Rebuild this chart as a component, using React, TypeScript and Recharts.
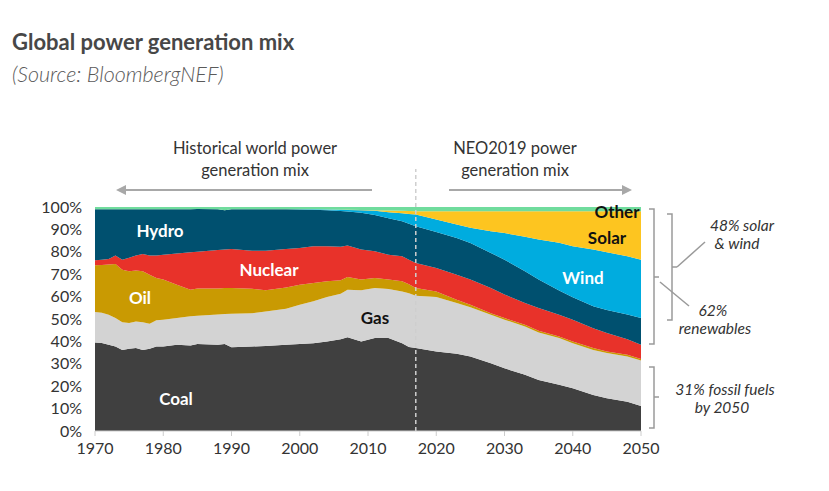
import { AreaChart, Area, XAxis, YAxis, ReferenceLine } from 'recharts';

// years (historical 1970-2017, NEO2019 outlook to 2050)
const years = [
  1970, 1971, 1972, 1973, 1974, 1975, 1976, 1977, 1978, 1979, 1980, 1982, 1984, 1985, 1988,
  1989, 1990, 1993, 1995, 1998, 2000, 2002, 2004, 2006, 2007, 2009, 2011, 2013, 2015, 2016,
  2017, 2020, 2023, 2025, 2028, 2030, 2033, 2035, 2038, 2040, 2043, 2045, 2048, 2050,
];

// share of generation, %
const coal = [
  39.5, 39.3, 38.5, 37.7, 36.2, 36.7, 37.0, 36.2, 36.7, 37.7, 37.7, 38.5, 38.2, 38.8, 38.5,
  38.8, 37.4, 37.7, 38.0, 38.5, 38.8, 39.2, 40.0, 41.0, 41.9, 40.0, 41.5, 41.5, 39.2, 37.5,
  37.0, 35.5, 34.5, 33.3, 30.3, 28.0, 25.1, 22.8, 20.6, 19.1, 16.1, 14.6, 13.1, 11.2,
];
const gas = [
  13.6, 13.5, 13.4, 12.7, 12.3, 11.5, 11.9, 12.3, 11.2, 11.7, 12.0, 11.9, 13.0, 12.6, 13.5,
  13.4, 14.9, 14.9, 15.4, 16.1, 17.6, 18.7, 19.8, 20.3, 21.2, 22.8, 22.3, 21.9, 23.1, 24.0,
  23.4, 24.3, 22.6, 22.0, 21.6, 21.7, 21.6, 21.2, 20.9, 20.1, 20.1, 20.2, 20.2, 20.3,
];
const oil = [
  20.9, 21.3, 22.4, 24.2, 23.5, 23.1, 22.8, 22.8, 21.9, 18.9, 17.9, 14.9, 11.9, 12.2, 11.6,
  11.6, 11.5, 10.9, 9.4, 9.5, 8.9, 8.2, 7.0, 6.0, 5.7, 4.8, 4.5, 4.2, 4.5, 4.0,
  3.4, 2.5, 1.5, 1.1, 0.7, 0.7, 0.7, 0.7, 0.7, 0.8, 0.8, 0.7, 0.7, 0.6,
];
const nuclear = [
  2.2, 2.4, 2.5, 3.7, 4.5, 6.0, 6.6, 7.7, 8.5, 10.0, 11.1, 13.9, 16.7, 16.4, 17.2,
  17.2, 17.5, 17.0, 17.7, 17.2, 16.4, 16.4, 15.7, 14.9, 14.0, 13.4, 11.9, 11.1, 11.2, 11.0,
  11.2, 10.5, 11.1, 11.2, 11.2, 10.5, 9.7, 10.2, 9.7, 9.7, 8.9, 8.2, 7.0, 6.4,
];
const hydro = [
  22.8, 22.5, 22.2, 20.7, 22.5, 21.7, 20.7, 20.0, 20.7, 20.7, 20.3, 19.8, 19.2, 19.1, 18.2,
  17.6, 17.7, 18.5, 18.5, 17.7, 17.2, 16.3, 16.0, 16.0, 15.2, 16.4, 16.2, 16.3, 15.6, 16.0,
  16.4, 16.0, 16.5, 16.3, 15.7, 15.6, 14.2, 12.7, 10.8, 10.0, 9.8, 10.3, 11.0, 11.9,
];
const wind = [
  0, 0, 0, 0, 0, 0, 0, 0, 0, 0, 0, 0, 0, 0, 0,
  0, 0, 0, 0, 0, 0.1, 0.2, 0.4, 0.6, 0.7, 1.2, 1.9, 2.7, 3.6, 4.4,
  5.2, 5.6, 6.0, 6.8, 9.7, 11.9, 15.4, 17.9, 21.3, 22.8, 25.3, 25.8, 26.0, 26.1,
];
const solar = [
  0, 0, 0, 0, 0, 0, 0, 0, 0, 0, 0, 0, 0, 0, 0,
  0, 0, 0, 0, 0, 0, 0, 0, 0, 0.1, 0.1, 0.3, 0.7, 1.1, 1.3,
  1.5, 3.7, 5.9, 7.4, 8.9, 9.7, 11.4, 12.6, 14.1, 15.6, 17.1, 18.3, 20.1, 21.6,
];
const other = [
  1.0, 1.0, 1.0, 1.0, 1.0, 1.0, 1.0, 1.0, 1.0, 1.0, 1.0, 1.0, 1.0, 0.9, 1.0,
  1.4, 1.0, 1.0, 1.0, 1.0, 1.0, 1.0, 1.1, 1.2, 1.2, 1.3, 1.4, 1.6, 1.7, 1.8,
  1.9, 1.9, 1.9, 1.9, 1.9, 1.9, 1.9, 1.9, 1.9, 1.9, 1.9, 1.9, 1.9, 1.9,
];

const xTicks = [1970, 1980, 1990, 2000, 2010, 2020, 2030, 2040, 2050];
const yTicks = [0, 10, 20, 30, 40, 50, 60, 70, 80, 90, 100];
const outlookStart = 2017;

const SERIES = [
  { key: 'coal', name: 'Coal', color: '#404040' },
  { key: 'gas', name: 'Gas', color: '#d3d3d3' },
  { key: 'oil', name: 'Oil', color: '#c99a02' },
  { key: 'nuclear', name: 'Nuclear', color: '#e8322a' },
  { key: 'hydro', name: 'Hydro', color: '#00506f' },
  { key: 'wind', name: 'Wind', color: '#00acdf' },
  { key: 'solar', name: 'Solar', color: '#fdc520' },
  { key: 'other', name: 'Other', color: '#70dc9d' },
];

const data = years.map((year, i) => ({
  year,
  coal: coal[i],
  gas: gas[i],
  oil: oil[i],
  nuclear: nuclear[i],
  hydro: hydro[i],
  wind: wind[i],
  solar: solar[i],
  other: other[i],
}));

const FONT = 'Lato, "Open Sans", sans-serif';
const W = 829;
const H = 491;

// in-chart series labels
const areaLabels = [
  { text: 'Hydro', x: 160, y: 230, fill: '#fff' },
  { text: 'Nuclear', x: 269, y: 269, fill: '#fff' },
  { text: 'Oil', x: 140, y: 297, fill: '#fff' },
  { text: 'Gas', x: 375, y: 317, fill: '#111' },
  { text: 'Coal', x: 176, y: 398, fill: '#fff' },
  { text: 'Wind', x: 583, y: 277, fill: '#fff' },
  { text: 'Solar', x: 607, y: 237, fill: '#111' },
  { text: 'Other', x: 617, y: 211, fill: '#111' },
];

function Overlay() {
  const grey = '#9a9a9a';
  const txt = { fontFamily: FONT, fontSize: 16.5, fill: '#333', textAnchor: 'middle' as const };
  const note = { ...txt, fontSize: 15.5, fontStyle: 'italic' as const };
  return (
    <svg width={W} height={H} style={{ position: 'absolute', left: 0, top: 0, pointerEvents: 'none' }}>
      <defs>
        <marker id="ah" viewBox="0 0 10 10" refX="8" refY="5" markerWidth="5" markerHeight="5" orient="auto-start-reverse">
          <path d="M0,0 L10,5 L0,10 z" fill="#a8a8a8" />
        </marker>
      </defs>
      <text x={12} y={50} style={{ fontFamily: FONT, fontSize: 22, fontWeight: 700 }} fill="#474747">
        Global power generation mix
      </text>
      <text x={12} y={82} style={{ fontFamily: FONT, fontSize: 21.5, fontStyle: 'italic', fontWeight: 300 }} fill="#5a5a5a">
        (Source: BloombergNEF)
      </text>

      <text x={255} y={154} {...txt}>Historical world power</text>
      <text x={255} y={176} {...txt}>generation mix</text>
      <line x1={372} y1={190} x2={118} y2={190} stroke="#a8a8a8" strokeWidth={2} markerEnd="url(#ah)" />
      <text x={515} y={154} {...txt}>NEO2019 power</text>
      <text x={515} y={176} {...txt}>generation mix</text>
      <line x1={449} y1={190} x2={630} y2={190} stroke="#a8a8a8" strokeWidth={2} markerEnd="url(#ah)" />

      {areaLabels.map((l) => (
        <text key={l.text} x={l.x} y={l.y} textAnchor="middle" dominantBaseline="central"
          style={{ fontFamily: FONT, fontSize: 17, fontWeight: 700 }} fill={l.fill}>
          {l.text}
        </text>
      ))}

      {/* brackets on the right */}
      <path d="M649,209 H654 V344 H649 M654,277 H659" fill="none" stroke={grey} strokeWidth={1.5} />
      <path d="M667,214 H672 V320 H667 M672,267 H677" fill="none" stroke={grey} strokeWidth={1.5} />
      <path d="M649,367 H654 V428 H649 M654,397 H659" fill="none" stroke={grey} strokeWidth={1.5} />
      <line x1={677} y1={267} x2={705} y2={242} stroke={grey} strokeWidth={1.5} />
      <line x1={660} y1={282} x2={689} y2={306} stroke={grey} strokeWidth={1.5} />

      <text x={742} y={231} {...note}>48% solar</text>
      <text x={737} y={249} {...note}>&amp; wind</text>
      <text x={713} y={316} {...note}>62%</text>
      <text x={715} y={334} {...note}>renewables</text>
      <text x={725} y={395} {...note}>31% fossil fuels</text>
      <text x={722} y={413} {...note}>by 2050</text>
    </svg>
  );
}

export default function App() {
  return (
    <div style={{ position: 'relative', width: W, height: H, background: '#fff' }}>
      <style>{`body{margin:0}`}</style>
      <AreaChart
        width={W}
        height={H}
        data={data}
        margin={{ top: 207, right: 188, left: 35, bottom: 0 }}
      >
        <XAxis
          dataKey="year"
          type="number"
          domain={[1970, 2050]}
          ticks={xTicks}
          interval={0}
          height={60}
          tickSize={5}
          tickMargin={7}
          stroke="#cccccc"
          tick={{ fill: '#333', fontSize: 16, fontFamily: FONT }}
        />
        <YAxis
          width={60}
          domain={[0, 100]}
          ticks={yTicks}
          interval={0}
          allowDataOverflow
          tickFormatter={(v: number) => `${v}%`}
          axisLine={false}
          tickLine={false}
          tickMargin={7}
          tick={{ fill: '#333', fontSize: 16, fontFamily: FONT }}
        />
        {SERIES.map((s) => (
          <Area
            key={s.key}
            dataKey={s.key}
            name={s.name}
            stackId="mix"
            type="linear"
            fill={s.color}
            fillOpacity={1}
            stroke="none"
            isAnimationActive={false}
          />
        ))}
        <ReferenceLine
          segment={[{ x: outlookStart, y: 0 }, { x: outlookStart, y: 117 }]}
          ifOverflow="visible"
          stroke="#cfcfcf"
          strokeWidth={1.5}
          strokeDasharray="4 3"
        />
      </AreaChart>
      <Overlay />
    </div>
  );
}
